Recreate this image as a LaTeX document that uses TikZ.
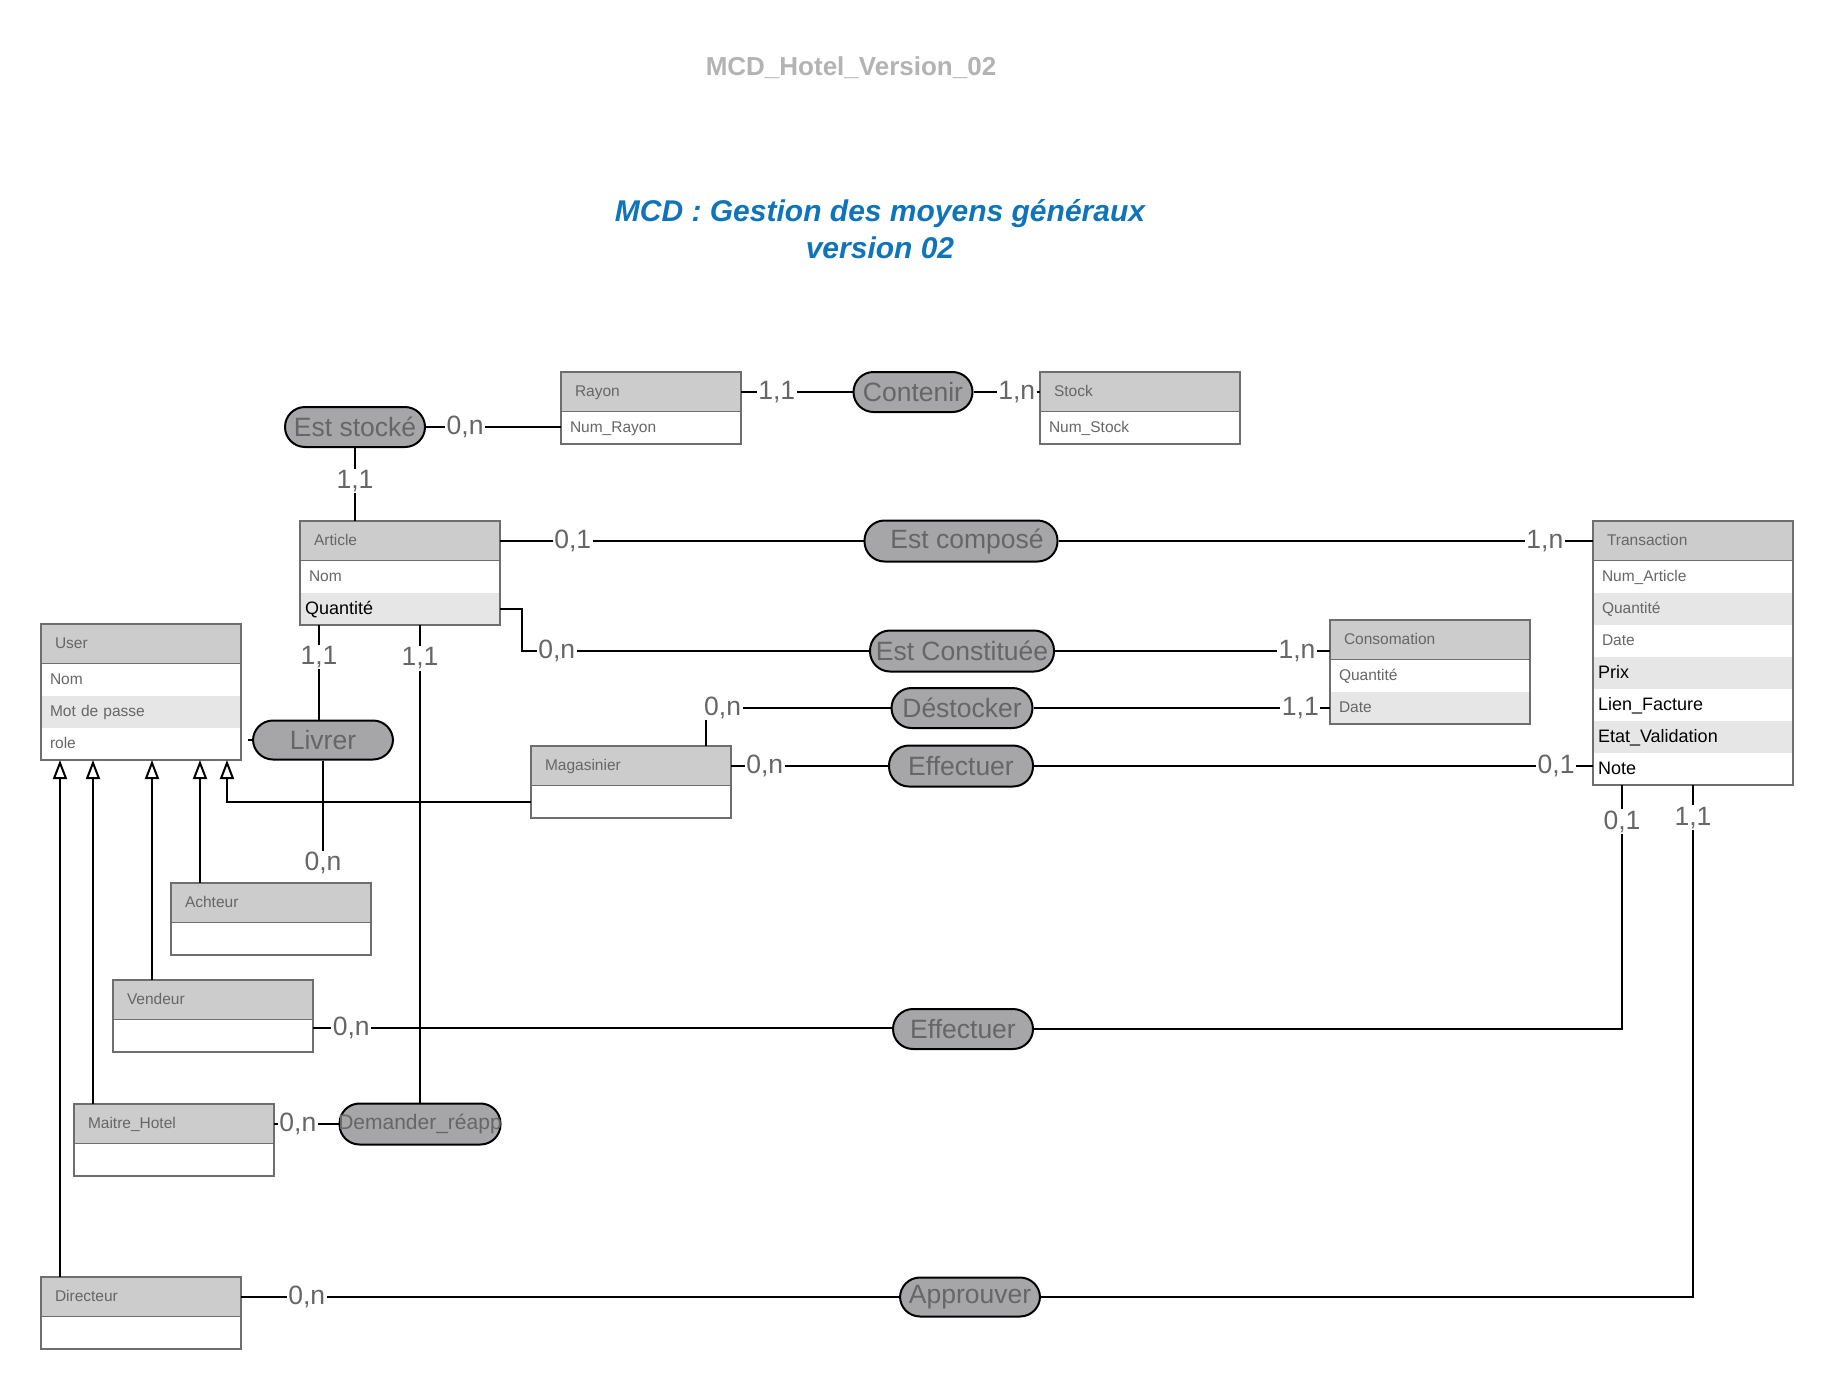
\documentclass[tikz,border=0pt]{standalone}
\usepackage{fontspec}
\setmainfont{Liberation Sans}
\usetikzlibrary{arrows.meta,positioning}
\definecolor{headgray}{HTML}{CCCCCC}
\definecolor{rowshade}{HTML}{E6E6E6}
\definecolor{edgegray}{HTML}{6E6E6E}
\definecolor{txtgray}{HTML}{666666}
\definecolor{relgray}{HTML}{A6A6A9}
\definecolor{titlegray}{HTML}{B3B3B3}
\definecolor{titleblue}{HTML}{0F74BA}

% entity box: [width]{name}{north west corner}{title}{rows as text/fill/style}
\newcommand{\Entite}[5][200]{%
  \pgfmathsetlengthmacro{\HeadTW}{#1pt-28pt}%
  \pgfmathsetlengthmacro{\RowTW}{#1pt-10pt}%
  \node[enthead, text width=\HeadTW, anchor=north west] (#2) at (#3) {#4};
  \xdef\PrevRow{#2}%
  \foreach \txt/\bg/\st [count=\i] in {#5} {
    \node[entrow, \st, fill=\bg, text width=\RowTW, below=0pt of \PrevRow] (#2-\i) {\txt};
    \xdef\PrevRow{#2-\i}
  }
  \draw[entline] (#2.north west) rectangle (\PrevRow.south east);
}

\begin{document}
\begin{tikzpicture}[
  x=1pt, y=-1pt,
  enthead/.style={draw=edgegray, line width=1.5pt, fill=headgray, minimum height=40pt,
    inner xsep=14pt, inner ysep=0pt, outer sep=0pt, align=left, text=txtgray,
    text height=11pt, text depth=2pt, font=\fontsize{15.5}{18}\selectfont},
  entrow/.style={minimum height=32pt, inner xsep=5pt, inner ysep=0pt, outer sep=0pt, align=left},
  attrgray/.style={text=txtgray, text height=11pt, text depth=2pt,
    font=\fontsize{15.5}{18}\selectfont, execute at begin node=\hspace*{4pt}},
  attrblack/.style={text=black, text height=13pt, text depth=2.5pt, font=\fontsize{18}{20}\selectfont},
  entline/.style={draw=edgegray, line width=1.5pt},
  rel/.style={rectangle, rounded corners=20pt, draw=black, line width=2pt, fill=relgray,
    text=txtgray, inner sep=0pt, minimum height=40pt, font=\fontsize{26.5}{28}\selectfont},
  assoc/.style={line width=2pt},
  card/.style={fill=white, text=txtgray, inner sep=1.5pt, font=\fontsize{26.5}{26}\selectfont},
  herit/.style={line width=2pt, -{Triangle[open, length=19pt, width=14pt]}}
]
\useasboundingbox (0,0) rectangle (1833,1389);

% --- Titles -------------------------------------------------------------
\node[text=titlegray, font=\fontsize{26}{30}\selectfont\bfseries] (docTitle) at (851,68)
  {MCD\_Hotel\_Version\_02};
\node[text=titleblue, align=center, font=\fontsize{30}{37}\selectfont\bfseries\itshape]
  (mainTitle) at (880,229) {MCD : Gestion des moyens généraux\\version 02};

% --- Entities -----------------------------------------------------------
\Entite[180]{rayon}{561,372}{Rayon}{Num\_Rayon/white/attrgray}
\Entite{stock}{1040,372}{Stock}{Num\_Stock/white/attrgray}
\Entite{article}{300,521}{Article}{Nom/white/attrgray, Quantité/rowshade/attrblack}
\Entite{user}{41,624}{User}{Nom/white/attrgray, Mot de passe/rowshade/attrgray, role/white/attrgray}
\Entite{transaction}{1593,521}{Transaction}{Num\_Article/white/attrgray,
  Quantité/rowshade/attrgray, Date/white/attrgray, Prix/rowshade/attrblack,
  Lien\_Facture/white/attrblack, Etat\_Validation/rowshade/attrblack, Note/white/attrblack}
\Entite{consomation}{1330,620}{Consomation}{Quantité/white/attrgray, Date/rowshade/attrgray}
\Entite{magasinier}{531,746}{Magasinier}{/white/attrgray}
\Entite{achteur}{171,883}{Achteur}{/white/attrgray}
\Entite{vendeur}{113,980}{Vendeur}{/white/attrgray}
\Entite{maitrehotel}{74,1104}{Maitre\_Hotel}{/white/attrgray}
\Entite{directeur}{41,1277}{Directeur}{/white/attrgray}

% --- Associations -------------------------------------------------------
\node[rel, minimum width=140pt] (estStocke) at (355,427) {Est stocké};
\node[rel, minimum width=119pt] (contenir) at (913,392) {Contenir};
\node[rel, minimum width=193pt, minimum height=41pt] (estCompose) at (961,541) {\hspace*{12pt}Est composé};
\node[rel, minimum width=184pt, minimum height=41pt] (estConstituee) at (962,651) {Est Constituée};
\node[rel, minimum width=141pt] (destocker) at (962,708) {Déstocker};
\node[rel, minimum width=144pt, minimum height=41pt] (effectuerMag) at (961,766) {Effectuer};
\node[rel, minimum width=140pt, minimum height=39pt] (livrer) at (323,740) {Livrer};
\node[rel, minimum width=140pt] (effectuerVen) at (963,1029) {Effectuer};
\node[rel, minimum width=161pt, minimum height=41pt, font=\fontsize{21}{24}\selectfont]
  (demander) at (420,1124) {\makebox[0pt]{Demander\_réapp}};
\node[rel, minimum width=140pt, minimum height=39pt] (approuver) at (970,1297) {Approuver};

% --- Links with cardinalities -------------------------------------------
\draw[assoc] (estStocke.east) -- node[card, pos=0.29] {0,n} (estStocke.east -| rayon-1.west);
\draw[assoc] (estStocke.south) -- node[card, pos=0.45] {1,1} (estStocke.south |- article.north);
\draw[assoc] (rayon.east) -- node[card, pos=0.32] {1,1} (contenir.west);
\draw[assoc] (contenir.east) -- node[card, pos=0.65] {1,n} (stock.west);
\draw[assoc] (article.east) -- node[card, pos=0.2] {0,1} (estCompose.west);
\draw[assoc] (estCompose.east) -- node[card, pos=0.91] {1,n} (transaction.west);
\draw[assoc] (article-2.east) -- ++(22,0) |- node[card, pos=0.55] {0,n} (estConstituee.west);
\draw[assoc] (estConstituee.east) -- node[card, pos=0.88] {1,n} (estConstituee.east -| consomation.west);
\draw[assoc] ([xshift=-25pt]magasinier.north east) |- node[card, pos=0.545] {0,n} (destocker.west);
\draw[assoc] (destocker.east) -- node[card, pos=0.9] {1,1} (consomation-2.west);
\draw[assoc] (magasinier.east) -- node[card, pos=0.215] {0,n} (effectuerMag.west);
\draw[assoc] (effectuerMag.east) -- node[card, pos=0.934] {0,1} (effectuerMag.east -| transaction-7.west);

\coordinate (artLivrer) at ([xshift=19pt]article-2.south west);
\coordinate (artDemande) at ([xshift=120pt]article-2.south west);
\draw[assoc] (artLivrer) -- node[card, pos=0.34] {1,1} (artLivrer |- livrer.north);
\draw[assoc] (livrer.west) -- ++(-4,0);
\draw[assoc, shorten >=10pt] (livrer.south) -- node[card, pos=0.84] {0,n} (livrer.south |- achteur.north);
\draw[assoc] (artDemande) -- node[card, pos=0.07] {1,1} (artDemande |- demander.north);
\draw[assoc] (maitrehotel.east) -- node[card, pos=0.37] {0,n} (maitrehotel.east -| demander.west);

\coordinate (venOut) at ([yshift=-8pt]vendeur-1.north east);
\coordinate (trVente) at ([xshift=29pt]transaction-7.south west);
\coordinate (trDirect) at ([xshift=100pt]transaction-7.south west);
\draw[assoc] (venOut) -- node[card, pos=0.066] {0,n} (venOut -| effectuerVen.west);
\draw[assoc] (effectuerVen.east) -| node[card, pos=0.925] {0,1} (trVente);
\draw[assoc] (directeur.east) -- node[card, pos=0.1] {0,n} (approuver.west);
\draw[assoc] (approuver.east) -| node[card, pos=0.968] {1,1} (trDirect);

% --- Generalisation towards User ----------------------------------------
\foreach \sub/\dx in {directeur/19, maitrehotel/19, vendeur/39, achteur/29} {
  \coordinate (\sub-up) at ([xshift=\dx pt]\sub.north west);
  \draw[herit] (\sub-up) -- (\sub-up |- user-3.south);
}
\draw[herit] (magasinier-1.west) -| ([xshift=-14pt]user-3.south east);

\end{tikzpicture}
\end{document}
